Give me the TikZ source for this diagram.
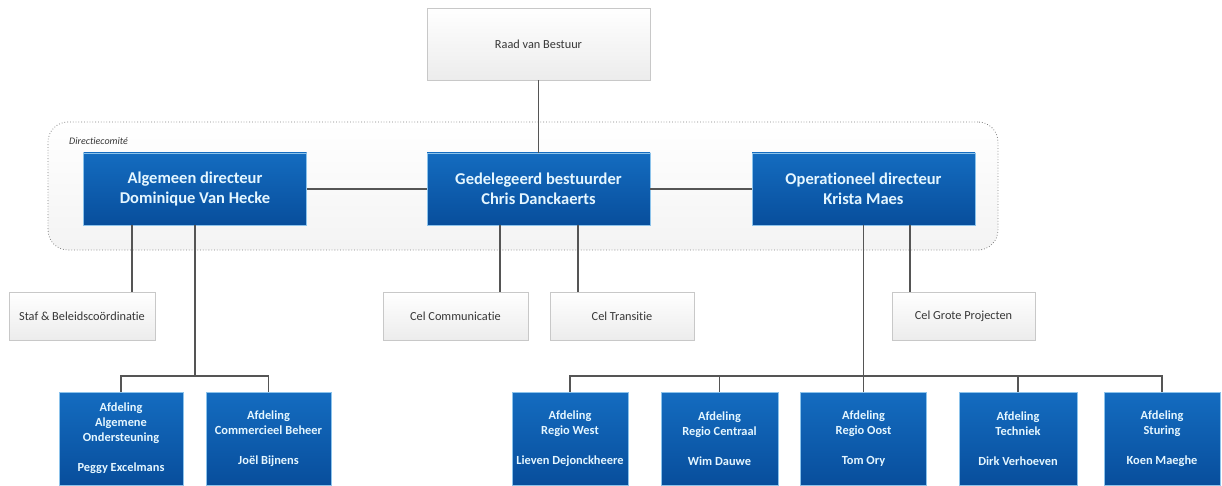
\documentclass[tikz,border=0pt]{standalone}
\usepackage{fontspec}
\setmainfont{Carlito}[RawFeature={-liga;-dlig}]
\usetikzlibrary{shadows}
\definecolor{bluetop}{RGB}{20,108,192}
\definecolor{bluebot}{RGB}{8,78,156}
\definecolor{blueedge}{RGB}{140,195,235}
\definecolor{bluetext}{RGB}{228,246,255}
\definecolor{linec}{RGB}{85,85,85}
\definecolor{graytext}{RGB}{55,55,55}
\definecolor{grayedge}{RGB}{200,200,200}
\definecolor{graybot}{RGB}{236,236,236}
\begin{document}
\begin{tikzpicture}[x=1pt,y=-1pt,
  graybox/.style={rectangle, draw=grayedge, top color=white, bottom color=graybot,
    text=graytext, font=\fontsize{12.3}{15}\selectfont, inner sep=0pt,
    drop shadow={opacity=0.18,shadow xshift=1pt,shadow yshift=-1.2pt}},
  topblue/.style={rectangle, draw=blueedge, line width=0.6pt, top color=bluetop, bottom color=bluebot,
    text=bluetext, font=\fontsize{16.5}{20}\selectfont\bfseries, align=center, inner sep=0pt,
    minimum width=223pt, minimum height=72pt},
  dept/.style={rectangle, draw=blueedge, line width=0.6pt, top color=bluetop, bottom color=bluebot,
    text=bluetext, font=\fontsize{12.4}{15}\selectfont\bfseries, align=center, inner sep=0pt,
    minimum height=93pt},
  conn/.style={draw=linec, line width=1.1pt},
  container/.style={rectangle, draw=gray, dotted, line width=0.8pt, rounded corners=20pt,
    top color=white, bottom color=gray!9, inner sep=0pt, minimum width=950pt, minimum height=128pt}
]
\useasboundingbox (0,0) rectangle (1222,486);

% container
\node[container] (dc) at (523,186) {};
\node[anchor=west, font=\fontsize{10}{12}\selectfont\itshape, text=graytext, inner sep=0pt] (dclabel) at (69,141) {Directiecomité};

% top
\node[graybox, minimum width=223pt, minimum height=72pt] (raad) at (538.5,44) {Raad van Bestuur};

% directors
\node[topblue] (alg) at (195,189) {Algemeen directeur\\Dominique Van Hecke};
\node[topblue] (ged) at (538.5,189) {Gedelegeerd bestuurder\\Chris Danckaerts};
\node[topblue] (op) at (863.5,189) {Operationeel directeur\\Krista Maes};

% staff cells
\node[graybox, minimum width=146pt, minimum height=48pt] (staf) at (82,316) {Staf \& Beleidscoördinatie};
\node[graybox, minimum width=145pt, minimum height=48pt] (comm) at (455.5,316) {Cel Communicatie};
\node[graybox, minimum width=144pt, minimum height=48pt] (trans) at (622,316) {Cel Transitie};
\node[graybox, minimum width=143pt, minimum height=48pt] (grote) at (963.5,316) {Cel Grote Projecten};

% departments
\node[dept, minimum width=124pt] (ondst) at (121,438.5) {Afdeling\\Algemene\\Ondersteuning\\[15pt]Peggy Excelmans};
\node[dept, minimum width=125pt] (comb) at (268.5,438.5) {Afdeling\\Commercieel Beheer\\[15pt]Joël Bijnens};
\node[dept, minimum width=116pt] (west) at (570,438.5) {Afdeling\\Regio West\\[15pt]Lieven Dejonckheere};
\node[dept, minimum width=117pt] (centr) at (719.5,438.5) {Afdeling\\Regio Centraal\\[15pt]Wim Dauwe};
\node[dept, minimum width=126pt] (oost) at (863.5,438.5) {Afdeling\\Regio Oost\\[15pt]Tom Ory};
\node[dept, minimum width=118pt] (tech) at (1018,438.5) {Afdeling\\Techniek\\[15pt]Dirk Verhoeven};
\node[dept, minimum width=116pt] (stur) at (1162,438.5) {Afdeling\\Sturing\\[15pt]Koen Maeghe};

\coordinate (bus) at (0,376);

% connectors
\draw[conn] (raad.south) -- (ged.north);
\draw[conn] (alg.east) -- (ged.west);
\draw[conn] (ged.east) -- (op.west);

\draw[conn] ([xshift=-63pt]alg.south) -- ([xshift=-63pt]alg.south |- staf.north);
\draw[conn] (alg.south) -- (alg.south |- bus);
\draw[conn] (ondst.north) |- (bus -| comb.north) -- (comb.north);

\draw[conn] ([xshift=-38.5pt]ged.south) -- ([xshift=-38.5pt]ged.south |- comm.north);
\draw[conn] ([xshift=39.5pt]ged.south) -- ([xshift=39.5pt]ged.south |- trans.north);

\draw[conn] ([xshift=46.5pt]op.south) -- ([xshift=46.5pt]op.south |- grote.north);
\draw[conn] (op.south) -- (op.south |- oost.north);
\draw[conn] (west.north) |- (bus -| stur.north) -- (stur.north);
\draw[conn] (centr.north) -- (centr.north |- bus);
\draw[conn] (tech.north) -- (tech.north |- bus);
\end{tikzpicture}
\end{document}
